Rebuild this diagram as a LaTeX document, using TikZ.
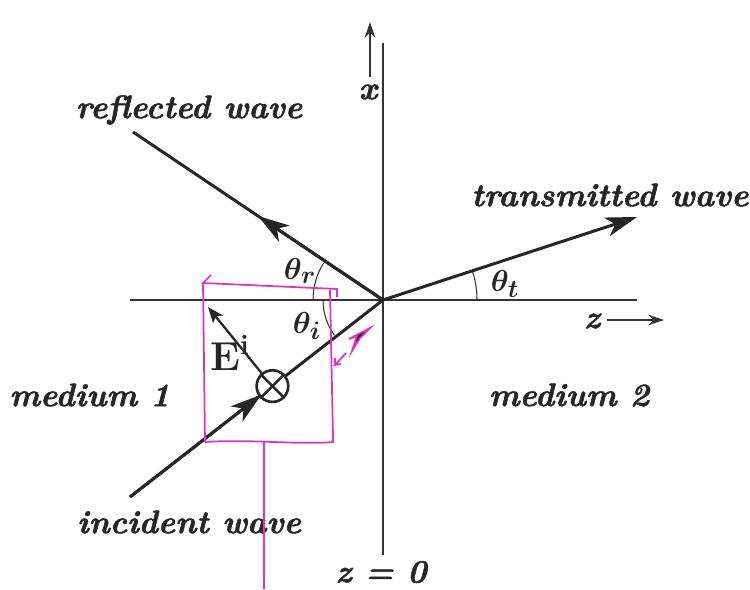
\documentclass[tikz,border=0pt]{standalone}
\usepackage{amsmath,bm}
\usepackage{fontspec}
\setmainfont{Latin Modern Roman}[BoldItalicFeatures={FakeBold=1.6}]
\usetikzlibrary{arrows.meta,calc}
\definecolor{pen}{RGB}{228,48,190}
\begin{document}
\begin{tikzpicture}[x=0.02cm,y=0.02cm,
  lbl/.style={font=\fontsize{18.5}{21}\selectfont\bfseries\itshape, inner sep=0pt, text=black!85},
  ang/.style={font=\boldmath\fontsize{19}{21}\selectfont, inner sep=0pt, text=black!85},
  wave/.style={line width=1.7pt, draw=black!85},
  axis/.style={line width=1.1pt, draw=black!80},
  tip/.style={-{Stealth[length=18pt,width=11pt,inset=5pt]}},
  smalltip/.style={-{Stealth[length=9pt,width=7pt,inset=2pt]}},
  arcline/.style={line width=0.6pt, draw=black!80},
  pen/.style={draw=pen, line width=1pt}]
\useasboundingbox (0,0) rectangle (750,589);
% key points
\coordinate (O) at (383,289);
\coordinate (R) at (133,457);
\coordinate (I) at (130,92);
\coordinate (T) at (637,372);
\coordinate (Ra) at ($(O)!0.5!(R)$);
\coordinate (Ia) at ($(I)!0.52!(O)$);
\coordinate (Ot) at ($(O)!0.437!(I)$);
\coordinate (Et) at (208,282);
% axes
\coordinate (zl) at (130,289);
\coordinate (zr) at (637,289);
\coordinate (xt) at (383,546);
\coordinate (xb) at (383,34);
\draw[axis] (zl) -- (zr);
\draw[axis] (xb) -- (xt);
\coordinate (xa1) at (370,512);
\coordinate (xa2) at (370,567);
\draw[axis, line width=0.9pt, -{Stealth[length=9pt,width=6pt]}] (xa1) -- (xa2);
\node[lbl] (xlab) at (368,497) {x};
\coordinate (za1) at (607,269);
\coordinate (za2) at (664,269);
\draw[axis, line width=0.9pt, -{Stealth[length=9pt,width=6pt]}] (za1) -- (za2);
\node[lbl] (zlab) at (592,268) {z};
\node[lbl] (z0) at (381,17) {z = 0};
% angle arcs
\draw[arcline] ($(O)+(180:70)$) arc[start angle=180, end angle=148, radius=70];
\draw[arcline] ($(O)+(180:60)$) arc[start angle=180, end angle=216, radius=60];
\draw[arcline] ($(O)+(0:94)$) arc[start angle=0, end angle=18, radius=94];
% waves
\draw[wave] (O) -- (R);
\draw[wave, tip] (O) -- (Ra);
\draw[wave] (I) -- (O);
\draw[wave, tip] (I) -- (Ia);
\draw[wave, tip] (O) -- (T);
% E field and out-of-page symbol
\node[circle, draw=black!85, line width=1.5pt, fill=white, minimum size=18pt, inner sep=0pt] (ot) at (Ot) {};
\draw[line width=1.4pt, black!85] (ot.45) -- (ot.225) (ot.135) -- (ot.315);
\draw[wave, line width=1.3pt, smalltip] (ot.130) -- (Et);
\node[font=\fontsize{23}{25}\selectfont, inner sep=0pt, text=black!85] (Elab) at (230,236) {$\mathbf{E}^{\mathbf{i}}$};
% angle labels
\node[ang] (thr) at (300,318) {$\theta_{r}$};
\node[ang] (thi) at (307,263) {$\theta_{i}$};
\node[ang] (tht) at (505,305) {$\theta_{t}$};
% text labels
\node[lbl] (refl) at (189,479) {reflected wave};
\node[lbl, anchor=west] (trans) at (471,394) {transmitted wave};
\node[lbl, anchor=west] (m1) at (9,194) {medium 1};
\node[lbl] (m2) at (569,194) {medium 2};
\node[lbl] (inc) at (189,67) {incident wave};
% handwritten magenta annotations
\coordinate (p1) at (203,306);
\coordinate (p2) at (337,300);
\coordinate (p3) at (337,292);
\coordinate (p4) at (205,147);
\coordinate (p5) at (333,147);
\coordinate (p6) at (333,152);
\coordinate (p7) at (330,299);
\coordinate (p8) at (264,147);
\coordinate (p9) at (264,0);
\coordinate (p10) at (211,314);
\draw[pen] (p10) -- (p1) -- (p2) -- (p3);
\draw[pen] (p1) -- (p4);
\draw[pen] (p4) .. controls (250,150) and (300,144) .. (p5) -- (p6);
\draw[pen] (p7) -- (p6);
\draw[pen] (p8) -- (p9);
\coordinate (q1) at (370,261);
\fill[pen] (q1) -- (349,250) -- (357,253) -- (352,238) -- (360,251) -- cycle;
\coordinate (q4) at (346,236);
\coordinate (q5) at (335,224);
\draw[pen] (q4) -- (q5) -- (341,225) (q5) -- (335,231);
\end{tikzpicture}
\end{document}
